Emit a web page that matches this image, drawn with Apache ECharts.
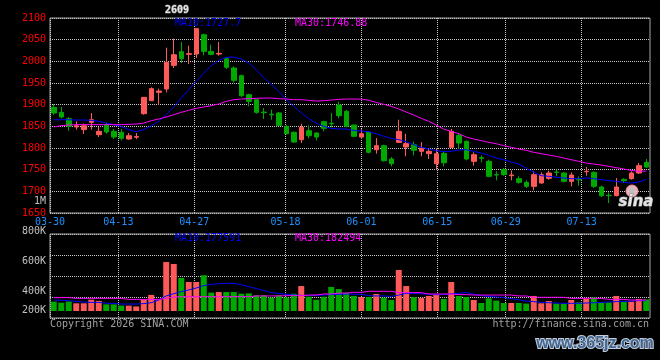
<!DOCTYPE html>
<html>
<head>
<meta charset="utf-8">
<script src="https://cdn.jsdelivr.net/npm/echarts@6/dist/echarts.min.js"></script>
<style>
html, body { margin: 0; padding: 0; background: #000; }
#kchart { width: 660px; height: 360px; }
</style>
</head>
<body>
<div id="kchart"></div>
<script>
// trading days shown on the chart
var dates = [
    '03-30','03-31','04-01','04-02','04-03','04-07','04-08','04-09','04-10',
    '04-13','04-14','04-15','04-16','04-17','04-20','04-21','04-22','04-23','04-24',
    '04-27','04-28','04-29','04-30','05-06','05-07','05-08',
    '05-11','05-12','05-13','05-14','05-15',
    '05-18','05-19','05-20','05-21','05-22','05-25','05-26','05-27','05-28','05-29',
    '06-01','06-02','06-03','06-04','06-05','06-08','06-09','06-10','06-11','06-12',
    '06-15','06-16','06-17','06-18','06-22','06-23','06-24','06-25','06-26',
    '06-29','06-30','07-01','07-02','07-03','07-06','07-07','07-08','07-09','07-10',
    '07-13','07-14','07-15','07-16','07-17','07-20','07-21','07-22','07-23','07-24'
];
var labelDates = ['03-30','04-13','04-27','05-18','06-01','06-15','06-29','07-13'];

var opens = [
    1893.8,1882.3,1867.6,1848.5,1842.3,1859.2,1830.7,1853.8,1838.4,1836.1,
    1820.7,1825.0,1879.2,1909.2,1928.4,1936.1,1990.7,2022.3,2016.2,2016.9,
    2061.5,2023.0,2016.9,2006.1,1984.6,1966.9,1923.0,1911.5,1883.0,1878.0,
    1880.7,1850.0,1836.1,1819.2,1840.0,1834.6,1860.7,1857.0,1899.2,1884.6,
    1853.0,1825.3,1836.1,1796.1,1805.3,1774.6,1813.0,1802.3,1807.6,1792.3,
    1786.9,1763.8,1787.5,1801.5,1829.0,1815.3,1769.2,1777.7,1769.2,1738.4,
    1750.0,1736.1,1729.2,1720.7,1711.5,1719.2,1730.0,1744.6,1742.3,1723.0,
    1727.7,1745.3,1743.8,1710.0,1690.7,1690.0,1727.7,1729.2,1742.3,1766.9
];
var closes = [
    1880.7,1871.5,1850.0,1851.5,1851.5,1865.3,1838.4,1836.9,1825.3,1822.3,
    1828.4,1826.5,1916.9,1936.9,1931.5,1997.6,2015.3,2006.1,2017.7,2075.3,
    2023.0,2016.1,2018.4,1986.1,1956.1,1920.7,1907.6,1882.3,1881.5,1876.5,
    1852.3,1833.0,1813.8,1847.7,1828.4,1825.3,1845.3,1855.5,1874.6,1850.0,
    1826.9,1833.0,1790.0,1805.3,1770.7,1763.8,1838.4,1810.0,1794.6,1800.0,
    1792.3,1786.9,1766.0,1838.4,1811.5,1774.6,1784.6,1776.1,1734.6,1737.7,
    1738.4,1737.7,1720.7,1711.5,1738.4,1738.4,1742.3,1743.8,1723.0,1737.7,
    1726.5,1746.1,1711.5,1690.0,1690.0,1710.0,1724.6,1742.3,1759.2,1756.1
];
var lows = [
    1876.9,1868.4,1840.0,1842.3,1832.3,1842.3,1825.3,1833.0,1820.7,1817.6,
    1819.2,1820.7,1876.9,1909.2,1900.0,1928.4,1984.6,1996.1,1993.8,2007.6,
    2013.8,2013.8,2013.0,1982.3,1951.5,1917.6,1896.1,1879.2,1866.9,1865.3,
    1850.7,1831.5,1811.5,1811.5,1822.3,1817.6,1838.4,1847.7,1868.4,1847.7,
    1825.3,1820.7,1787.7,1786.9,1768.4,1757.6,1811.5,1780.7,1783.0,1780.7,
    1774.6,1750.0,1757.6,1800.0,1797.7,1771.5,1759.2,1766.9,1732.3,1725.3,
    1736.1,1725.3,1717.6,1707.6,1702.3,1717.6,1726.9,1734.6,1720.7,1711.5,
    1713.0,1736.1,1707.6,1686.9,1673.0,1688.4,1719.2,1726.9,1740.7,1753.8
];
var highs = [
    1901.5,1894.6,1871.5,1861.5,1856.1,1880.7,1848.4,1859.2,1843.8,1843.8,
    1834.6,1834.6,1917.6,1940.0,1936.9,2031.5,2052.3,2044.6,2036.1,2076.9,
    2063.8,2038.4,2044.6,2009.2,1988.4,1969.2,1925.3,1913.0,1892.3,1888.4,
    1883.0,1852.3,1838.4,1856.1,1852.3,1836.1,1863.0,1880.7,1906.9,1888.4,
    1853.8,1843.8,1838.4,1823.0,1807.6,1779.2,1865.3,1833.0,1815.3,1813.8,
    1797.7,1800.0,1792.3,1844.0,1835.0,1817.6,1790.0,1783.0,1773.0,1746.1,
    1753.8,1748.4,1734.6,1725.3,1746.1,1743.8,1747.7,1750.0,1743.8,1743.8,
    1734.6,1756.1,1746.1,1713.0,1697.7,1730.7,1730.0,1746.1,1765.3,1774.6
];
var ma10 = [
    1865.3,1865.3,1865.3,1864.6,1864.6,1863.8,1861.5,1857.6,1853.8,1850.0,
    1842.3,1837.7,1842.3,1851.5,1861.5,1876.9,1894.6,1915.3,1934.6,1953.8,
    1973.0,1989.9,2002.3,2009.2,2010.0,2005.3,1996.1,1980.7,1962.0,1947.0,
    1930.7,1911.5,1896.1,1880.7,1867.6,1857.6,1850.0,1845.3,1843.8,1843.8,
    1840.7,1839.2,1837.7,1833.0,1826.9,1822.3,1819.2,1814.6,1807.6,1801.5,
    1797.7,1793.8,1792.0,1792.5,1795.5,1796.1,1792.3,1788.4,1783.0,1776.9,
    1773.0,1767.6,1763.0,1753.8,1743.8,1736.1,1734.6,1732.3,1730.7,1729.2,
    1729.2,1730.7,1729.2,1726.9,1724.6,1723.0,1720.7,1719.2,1721.5,1727.7
];
var ma30 = [
    1848.4,1851.5,1853.0,1853.8,1853.8,1853.8,1853.8,1853.8,1853.8,1853.8,
    1854.6,1855.3,1857.6,1863.0,1866.9,1871.5,1876.9,1882.3,1886.9,1891.5,
    1894.6,1897.7,1901.5,1907.6,1911.5,1913.0,1913.8,1914.6,1915.3,1915.3,
    1913.8,1913.0,1911.5,1911.5,1910.0,1908.4,1909.2,1910.7,1912.3,1913.0,
    1913.0,1913.0,1910.0,1905.3,1900.7,1896.1,1890.0,1883.0,1876.1,1868.4,
    1861.5,1853.0,1843.5,1838.4,1833.0,1825.3,1820.7,1816.9,1813.0,1810.0,
    1805.3,1801.5,1797.7,1794.6,1790.0,1786.9,1783.8,1780.7,1776.9,1773.0,
    1769.2,1765.3,1763.0,1760.7,1757.6,1754.6,1751.5,1748.4,1746.1,1746.88
];
var volumes = [
    329000,322000,330000,318000,318000,342000,334000,311000,311000,303000,
    302000,297000,344000,374000,344000,593000,580000,487000,460000,460000,
    505000,389000,393000,393000,393000,382000,384000,371000,371000,356000,
    371000,356000,382000,433000,362000,342000,362000,427000,413000,389000,
    367000,360000,360000,380000,356000,340000,540000,433000,360000,353000,
    367000,373000,347000,460000,367000,360000,340000,320000,351000,336000,
    320000,320000,320000,316000,367000,318000,333000,316000,316000,340000,
    324000,347000,358000,324000,324000,367000,329000,329000,347000,344000
];
var volMa10 = [
    340000,338000,336000,329000,327000,324000,324000,318000,318000,313000,
    313000,313000,316000,322000,340000,367000,382000,396000,407000,420000,
    436000,444000,449000,451000,451000,442000,429000,416000,404000,389000,
    384000,378000,373000,371000,369000,371000,373000,376000,378000,380000,
    378000,378000,369000,367000,367000,364000,373000,384000,384000,382000,
    378000,376000,376000,382000,384000,391000,378000,369000,364000,360000,
    356000,349000,342000,333000,329000,324000,322000,320000,318000,318000,
    318000,320000,322000,324000,327000,329000,331000,333000,336000,336000
];
var volMa30 = [
    356000,356000,356000,351000,351000,351000,351000,351000,351000,351000,
    344000,344000,344000,344000,344000,351000,360000,362000,362000,362000,
    362000,362000,362000,362000,362000,362000,362000,367000,367000,367000,
    367000,369000,369000,369000,373000,373000,380000,380000,386000,386000,
    391000,391000,398000,398000,398000,398000,389000,389000,389000,389000,
    380000,380000,380000,380000,376000,376000,373000,373000,373000,373000,
    373000,373000,367000,367000,358000,358000,358000,358000,358000,351000,
    351000,351000,351000,351000,344000,344000,344000,340000,340000,340000
];
var priceLegend = ['MA10:1727.7', 'MA30:1746.88'];
var volLegend = ['MA10:177591', 'MA30:182494'];

var chart = echarts.init(document.getElementById('kchart'));
var mono = 'DejaVu Sans Mono';
var upColor = '#ff5a5a', downColor = '#00a800';
var frameColor = '#a8a8a8', dotColor = '#c8c8c8';

var candles = dates.map(function (d, i) {
    return [opens[i], closes[i], lows[i], highs[i]];
});
var volData = volumes.map(function (v, i) {
    return { value: v, itemStyle: { color: closes[i] >= opens[i] ? upColor : downColor } };
});

function showDate(index, value) {
    return labelDates.indexOf(value) >= 0;
}
var dotted = { color: dotColor, width: 1, type: [1, 1] };

function txt(x, y, text, color, align, extra) {
    var style = { x: x, y: y, text: text, fill: color, font: '10px "DejaVu Sans Mono"',
        textAlign: align || 'left', textVerticalAlign: 'middle' };
    for (var k in extra) style[k] = extra[k];
    return { type: 'text', silent: true, z: 100, style: style };
}

var option = {
    backgroundColor: '#000',
    animation: false,
    grid: [
        { left: 50, right: 10, top: 18, height: 195, show: true, borderColor: frameColor, borderWidth: 1, backgroundColor: 'transparent' },
        { left: 50, right: 10, top: 231, height: 80 },
        { left: 50, right: 10, top: 234, height: 84, show: true, borderColor: frameColor, borderWidth: 1, backgroundColor: 'transparent' }
    ],
    xAxis: [
        { gridIndex: 0, type: 'category', data: dates, boundaryGap: true, position: 'top', show: false },
        {
            gridIndex: 0, type: 'category', data: dates, boundaryGap: false, position: 'bottom',
            axisLine: { show: false }, axisTick: { show: false },
            axisLabel: { interval: showDate, color: '#1e90ff', fontFamily: mono, fontSize: 10, margin: 4 },
            splitLine: { show: true, interval: showDate, lineStyle: dotted }
        },
        { gridIndex: 1, type: 'category', data: dates, boundaryGap: true, show: false },
        {
            gridIndex: 2, type: 'category', data: dates, boundaryGap: false,
            axisLine: { show: false }, axisTick: { show: false }, axisLabel: { show: false },
            splitLine: { show: true, interval: showDate, lineStyle: dotted }
        }
    ],
    yAxis: [
        {
            gridIndex: 0, type: 'value', min: 1650, max: 2100, interval: 50,
            axisLine: { show: false }, axisTick: { show: false },
            axisLabel: {
                formatter: function (v) { return String(v); },
                color: '#ff0000', fontFamily: mono, fontSize: 10, margin: 4
            },
            splitLine: { show: true, lineStyle: dotted }
        },
        {
            gridIndex: 1, type: 'value', min: 266667, max: 800000,
            axisLine: { show: false }, axisTick: { show: false },
            axisLabel: {
                customValues: [400000, 600000, 800000],
                formatter: function (v) { return Math.round(v / 1000) + 'K'; },
                color: '#c0c0c0', fontFamily: mono, fontSize: 10, margin: 4
            },
            splitLine: { show: false }
        },
        {
            gridIndex: 2, type: 'value', min: 0, max: 4, interval: 1, inverse: true,
            axisLine: { show: false }, axisTick: { show: false }, axisLabel: { show: false },
            splitLine: { show: true, lineStyle: dotted }
        }
    ],
    series: [
        {
            type: 'candlestick', xAxisIndex: 0, yAxisIndex: 0, data: candles, barWidth: 5,
            itemStyle: { color: upColor, color0: downColor, borderColor: upColor, borderColor0: downColor, borderWidth: 1 }
        },
        { type: 'line', xAxisIndex: 0, yAxisIndex: 0, data: ma10, symbol: 'none', lineStyle: { color: '#0000ff', width: 1 } },
        { type: 'line', xAxisIndex: 0, yAxisIndex: 0, data: ma30, symbol: 'none', lineStyle: { color: '#ff00ff', width: 1 } },
        { type: 'bar', xAxisIndex: 2, yAxisIndex: 1, data: volData, barWidth: 6 },
        { type: 'line', xAxisIndex: 2, yAxisIndex: 1, data: volMa10, symbol: 'none', lineStyle: { color: '#0000ff', width: 1 } },
        { type: 'line', xAxisIndex: 2, yAxisIndex: 1, data: volMa30, symbol: 'none', lineStyle: { color: '#ff00ff', width: 1 } }
    ],
    graphic: [
        txt(177, 10, '2609', '#e6e6e6', 'center', { stroke: '#6a6a6a', lineWidth: 1, font: 'bold 10px "DejaVu Sans Mono"' }),
        txt(175, 23, priceLegend[0], '#0000ff'),
        txt(295, 23, priceLegend[1], '#ff00ff'),
        txt(175, 238, volLegend[0], '#0000ff'),
        txt(295, 238, volLegend[1], '#ff00ff'),
        txt(46, 201, '1M', '#c0c0c0', 'right'),
        txt(46, 310, '200K', '#c0c0c0', 'right'),
        txt(50, 324, 'Copyright 2026 SINA.COM', '#a0a0a0'),
        txt(649, 324, 'http://finance.sina.com.cn', '#a0a0a0', 'right'),
        { type: 'circle', silent: true, z: 90, shape: { cx: 632, cy: 191, r: 6 }, style: { fill: 'rgba(255,215,222,0.85)', stroke: '#ff8a9a', lineWidth: 1 } },
        { type: 'circle', silent: true, z: 91, shape: { cx: 632, cy: 191, r: 2.5 }, style: { fill: '#c0c0c0' } },
        txt(636, 202, 'sina', '#e4e4e4', 'center', { stroke: '#8a8a8a', lineWidth: 1, font: 'italic bold 15px "DejaVu Sans"' }),
        txt(595, 344, 'www.365jz.com', '#416894', 'center', { stroke: '#c5cdd8', lineWidth: 2, strokeFirst: true, font: 'bold 16px "Liberation Sans"' })
    ]
};

chart.setOption(option);
window.onresize = function () {
    chart.resize();
};
</script>
</body>
</html>
